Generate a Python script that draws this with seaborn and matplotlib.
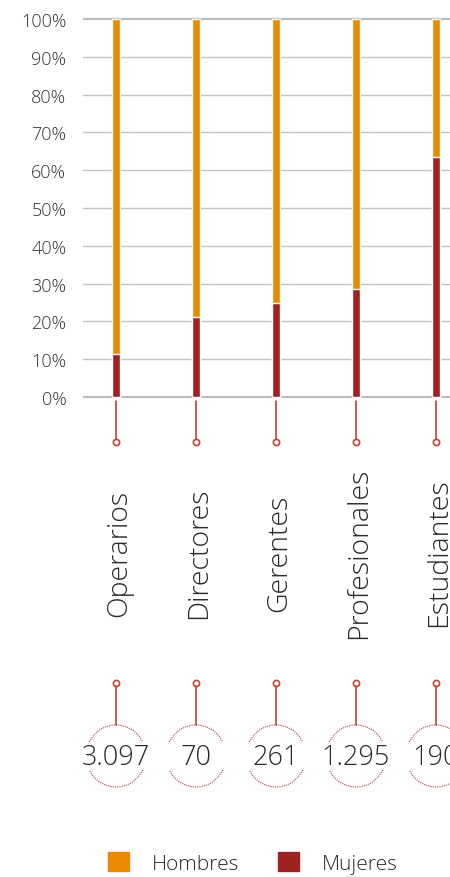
import numpy as np
import pandas as pd
import seaborn as sns
import matplotlib.pyplot as plt
from matplotlib.patches import Patch, Arc

# data
categorias = ["Operarios", "Directores", "Gerentes", "Profesionales", "Estudiantes"]
mujeres = [11.5, 21.2, 24.9, 28.5, 63.6]
hombres = [100 - m for m in mujeres]
totales = ["3.097", "70", "261", "1.295", "190"]
yticks = list(range(0, 101, 10))

naranja = "#EB8900"
rojo = "#9E2222"
linea = "#C0432F"
texto = "#2a2a2a"

sns.set_style("white")
plt.rcParams['font.family'] = ['Open Sans', 'DejaVu Sans']

df = pd.DataFrame({"categoria": categorias, "Mujeres": mujeres, "Hombres": hombres})
df["total"] = df["Mujeres"] + df["Hombres"]

W, H = 450, 878
fig = plt.figure(figsize=(W / 100, H / 100), dpi=100)

# bar axes: 0% at y=398px, 100% at y=20px, left edge 83px
y0, y100 = 398, 20
pad = 0.5 * (y0 - y100) / 100
ax = fig.add_axes([83 / W, 1 - (y0 + pad) / H, 1 - 83 / W, (y0 - y100 + 2 * pad) / H])
xlim = (-0.4125, 4.175)

sns.barplot(data=df, x="categoria", y="total", color=naranja, width=0.11,
            edgecolor="white", linewidth=1.0, saturation=1, ax=ax)
sns.barplot(data=df, x="categoria", y="Mujeres", color=rojo, width=0.11,
            edgecolor="white", linewidth=1.0, saturation=1, ax=ax)

ax.set_xlim(*xlim)
ax.set_ylim(-0.5, 100.5)
ax.set_yticks(yticks)
ax.set_yticklabels([f"{t}%" for t in yticks], fontsize=13, color="#333333", fontweight="light")
ax.set_xticks([])
ax.set_xlabel("")
ax.set_ylabel("")
ax.tick_params(axis="y", length=0, pad=12)
for t in yticks:
    ax.axhline(t, color="#c4c4c4" if t not in (0, 100) else "#bdbdbd",
               lw=1.0 if t not in (0, 100) else 1.6, zorder=0)
sns.despine(ax=ax, left=True, bottom=True)

# overlay axes in pixel rows for the connectors, labels and totals
ax2 = fig.add_axes([83 / W, 0, 1 - 83 / W, 1])
ax2.set_xlim(*xlim)
ax2.set_ylim(H, 0)
ax2.axis("off")
ax2.patch.set_alpha(0)

# arc angles: matplotlib stretches theta when width != height, so undo that
arc_w, arc_h = 60 / 80, 62
escala = arc_w / arc_h


def ang(phi):
    t = np.deg2rad(phi)
    return np.rad2deg(np.arctan2(np.sin(t), np.cos(t) * escala))


for i, (cat, tot) in enumerate(zip(categorias, totales)):
    ax2.plot([i, i], [402, 440], color=linea, lw=1.2)
    ax2.plot(i, 443, marker="o", ms=4.5, mfc="white", mec=linea, mew=1.2)
    ax2.text(i + 0.04, 553, cat, rotation=90, ha="center", va="center", fontsize=20.5,
             color=texto, fontweight="light")
    ax2.plot(i, 684, marker="o", ms=4.5, mfc="white", mec=linea, mew=1.2)
    ax2.plot([i, i], [687, 726], color=linea, lw=1.2)
    for th1, th2 in [(27, 153), (207, 333)]:
        ax2.add_patch(Arc((i, 757), width=arc_w, height=arc_h,
                          theta1=ang(th1) % 360, theta2=ang(th2) % 360,
                          color="#B03A3A", lw=0.8, ls=(0, (1, 1))))
    ax2.text(i, 758, tot, ha="center", va="center", fontsize=19.5, color=texto,
             fontweight="light", clip_on=False)

handles = [Patch(color=naranja, label="Hombres"), Patch(color=rojo, label="Mujeres")]
fig.legend(handles=handles, loc="center", bbox_to_anchor=(0.562, 1 - 864 / H), ncol=2,
           frameon=False, handlelength=1.0, handleheight=1.0,
           handletextpad=1.1, columnspacing=1.9,
           prop={"size": 15, "weight": "light", "family": ["Open Sans", "DejaVu Sans"]},
           labelcolor=texto)

fig.savefig("out.png", dpi=100)
